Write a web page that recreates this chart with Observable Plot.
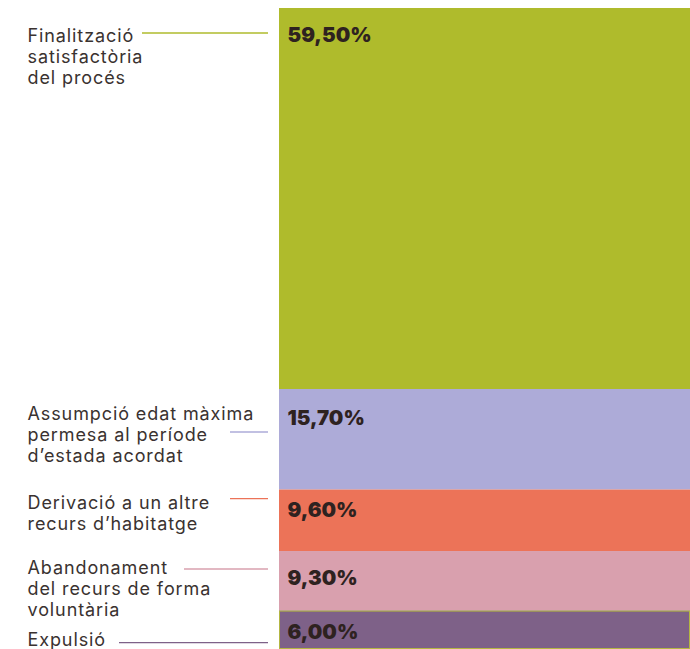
<!DOCTYPE html>
<html>
<head>
<meta charset="utf-8">
<script src="https://cdn.jsdelivr.net/npm/d3@7"></script>
<script src="https://cdn.jsdelivr.net/npm/@observablehq/plot@0.6"></script>
<style>
  html, body { margin: 0; padding: 0; background: #ffffff; }
  svg { display: block; }
  g[font-size="18"] text { letter-spacing: 0.9px; }
</style>
</head>
<body>
<div id="chart"></div>
<script>
// ---- data ----
const categories = [
  "Finalització\nsatisfactòria\ndel procés",
  "Assumpció edat màxima\npermesa al període\nd’estada acordat",
  "Derivació a un altre\nrecurs d’habitatge",
  "Abandonament\ndel recurs de forma\nvoluntària",
  "Expulsió"
];
const values = [59.5, 15.7, 9.6, 9.3, 6.0];
const valueLabels = ["59,50%", "15,70%", "9,60%", "9,30%", "6,00%"];
const colors = ["#afbb2c", "#adabd8", "#ec7358", "#d9a0ae", "#7e6188"];

// ---- layout (pixel offsets from each segment's top) ----
const labelBaselineDy = [31, 28, 17, 20, 33];
const lineDy = [25, 43, 9, 18, 32];
const lineStartX = [142, 230, 230, 184, 119];
const pctCenterDy = [27, 29, 20, 27, 21];

const W = 690, H = 649;
const ML = 279, MT = 8;
const total = d3.sum(values);
const starts = [0, ...d3.cumsum(values)].slice(0, values.length);

const data = categories.map((c, i) => ({
  category: c, value: values[i], label: valueLabels[i], start: starts[i], end: starts[i] + values[i], i
}));

const labelFont = 18;
const marks = [
  Plot.barY(data, {x: () => "total", y: "value", fill: "category"}),
  Plot.barY(data.filter(d => d.i === data.length - 1), {
    x: () => "total", y1: "start", y2: "end", fill: "category", stroke: "#b3b642", strokeWidth: 1, inset: 0.5
  })
];
data.forEach((d, i) => {
  marks.push(Plot.text([d], {
    y: "start", text: "label", frameAnchor: "left", dx: 8, dy: pctCenterDy[i],
    textAnchor: "start", lineAnchor: "middle",
    fontSize: 20.5, fontWeight: 900, fill: "#2e2220",
    fontFamily: "Inter, 'DejaVu Sans', sans-serif"
  }));
  marks.push(Plot.text([d], {
    y: "start", text: "category", frameAnchor: "left", dx: 27 - ML,
    dy: labelBaselineDy[i] - 0.71 * labelFont,
    textAnchor: "start", lineAnchor: "top", lineHeight: 1.17,
    fontSize: labelFont, fill: "#3a3230",
    fontFamily: "Inter, 'Open Sans', sans-serif"
  }));
});

const chart = Plot.plot({
  width: W, height: H,
  marginLeft: ML, marginRight: 0, marginTop: MT, marginBottom: 0,
  x: {type: "band", domain: ["total"], padding: 0, axis: null},
  y: {domain: [0, total], reverse: true, axis: null},
  color: {domain: categories, range: colors},
  style: {background: "#ffffff", overflow: "visible"},
  marks
});

// connector lines, positioned with the plot's own y scale
const ys = chart.scale("y");
const g = d3.select(chart).append("g").attr("class", "connectors");
data.forEach((d, i) => {
  const y = ys.apply(d.start) + lineDy[i];
  g.append("line")
    .attr("x1", lineStartX[i]).attr("x2", 268)
    .attr("y1", y).attr("y2", y)
    .attr("stroke", colors[i]).attr("stroke-width", 1.3);
});

document.getElementById("chart").appendChild(chart);
</script>
</body>
</html>
